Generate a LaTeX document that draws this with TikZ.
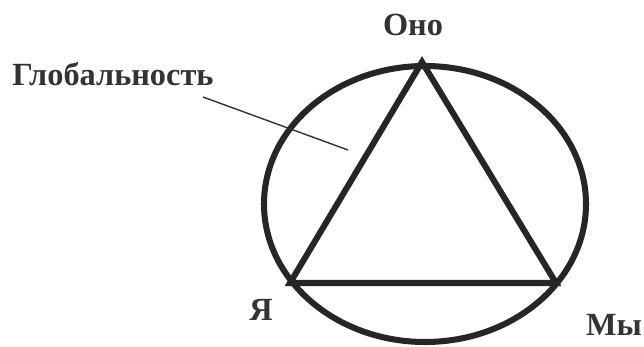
\documentclass[tikz,border=0pt]{standalone}
\usepackage{fontspec}
\setmainfont{Liberation Serif}
\usepackage{tikz}
\usepackage{xcolor}

\tikzset{
  lbl/.style={font=\fontsize{23}{25}\selectfont\bfseries,text=black!80,inner sep=0pt,anchor=base},
  thick line/.style={line width=4.3pt,draw=black!85},
}

\begin{document}
\begin{tikzpicture}[x=0.025cm,y=-0.025cm]
    \useasboundingbox (0,0) rectangle (644,347);

    \coordinate (Ono) at (422,62);
    \coordinate (Ya) at (290,283);
    \coordinate (My) at (556,283);

    \draw[thick line] (425,204) ellipse [x radius=161,y radius=138];
    \draw[thick line,line join=miter] (Ono) -- (Ya) -- (My) -- cycle;

    \node[lbl] (ono) at (413,36) {Оно};
    \node[lbl,anchor=base west] (glob) at (12,86) {Глобальность};
    \node[lbl] (ya) at (261,320) {Я};
    \node[lbl] (my) at (614,335) {Мы};

    \coordinate (gl) at (348,150);
    \draw[line width=1pt,black!80] (203,97) -- (gl);
\end{tikzpicture}
\end{document}
